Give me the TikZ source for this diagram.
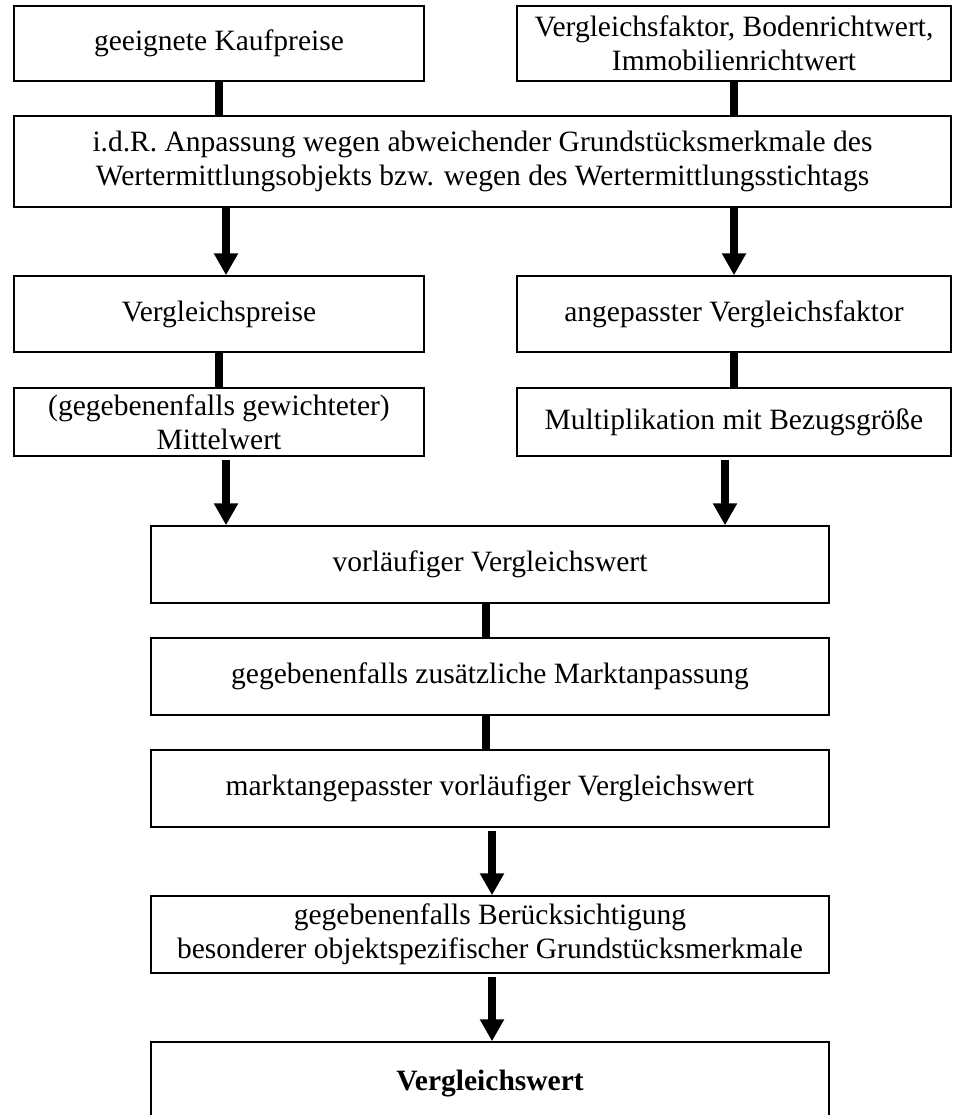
\documentclass[tikz,border=0pt]{standalone}
\usepackage{fontspec}
\setmainfont{Liberation Serif}
\usepackage{tikz}
\usetikzlibrary{arrows.meta,calc,positioning}

\tikzset{
  box/.style={draw, line width=1.5pt, inner sep=0pt, align=center,
    font=\fontsize{29.5}{34}\selectfont},
  link/.style={line width=8pt},
  arr/.style={line width=8pt, -{Triangle[width=23pt,length=22pt]}}
}

\begin{document}
\begin{tikzpicture}[x=1pt,y=-1pt]
\useasboundingbox (0,0) rectangle (955,1115);
\clip (0,0) rectangle (955,1115);
\node[box, minimum width=410pt, minimum height=75pt] (kauf) at (219,43.5) {geeignete Kaufpreise};
\node[box, minimum width=434pt, minimum height=75pt] (faktor) at (734,43.5) {Vergleichsfaktor, Bodenrichtwert,\\Immobilienrichtwert};
\node[box, minimum width=937pt, minimum height=91pt] (anp) at (482.5,161.5) {i.d.R. Anpassung wegen abweichender Grundstücksmerkmale des\\Wertermittlungsobjekts bzw. wegen des Wertermittlungsstichtags};
\node[box, minimum width=410pt, minimum height=76pt] (vpreise) at (219,314) {Vergleichspreise};
\node[box, minimum width=434pt, minimum height=76pt] (vfaktor) at (734,314) {angepasster Vergleichsfaktor};
\node[box, minimum width=410pt, minimum height=68pt] (mittel) at (219,422) {(gegebenenfalls gewichteter)\\Mittelwert};
\node[box, minimum width=434pt, minimum height=68pt] (multi) at (734,422) {Multiplikation mit Bezugsgröße};
\node[box, minimum width=678pt, minimum height=77pt] (vorl) at (490,564.5) {vorläufiger Vergleichswert};
\node[box, minimum width=678pt, minimum height=77pt] (markt) at (490,676.5) {gegebenenfalls zusätzliche Marktanpassung};
\node[box, minimum width=678pt, minimum height=77pt] (mvorl) at (490,788.5) {marktangepasster vorläufiger Vergleichswert};
\node[box, minimum width=678pt, minimum height=77pt] (besond) at (490,934.5) {gegebenenfalls Berücksichtigung\\besonderer objektspezifischer Grundstücksmerkmale};
\node[box, minimum width=678pt, minimum height=84pt] (wert) at (490,1084) {\bfseries Vergleichswert};

\coordinate (pl) at ($(vpreise.north)+(7,0)$);
\coordinate (ml) at ($(mittel.south)+(7,3)$);
\coordinate (gr) at ($(multi.south)+(-9,3)$);
\coordinate (vl) at ($(vorl.south)+(-4,0)$);
\coordinate (ml2) at ($(markt.south)+(-4,0)$);
\coordinate (kl) at ($(mvorl.south)+(2,3)$);
\coordinate (wl) at ($(besond.south)+(2,3)$);

\draw[link] (kauf.south) -- (kauf.south |- anp.north);
\draw[link] (faktor.south) -- (faktor.south |- anp.north);
\draw[arr] (pl |- anp.south) -- (pl);
\draw[arr] (vfaktor.north |- anp.south) -- (vfaktor.north);
\draw[link] (vpreise.south) -- (mittel.north);
\draw[link] (vfaktor.south) -- (multi.north);
\draw[arr] (ml) -- (ml |- vorl.north);
\draw[arr] (gr) -- (gr |- vorl.north);
\draw[link] (vl) -- (vl |- markt.north);
\draw[link] (ml2) -- (ml2 |- mvorl.north);
\draw[arr] (kl) -- (kl |- besond.north);
\draw[arr] (wl) -- (wl |- wert.north);
\end{tikzpicture}
\end{document}
